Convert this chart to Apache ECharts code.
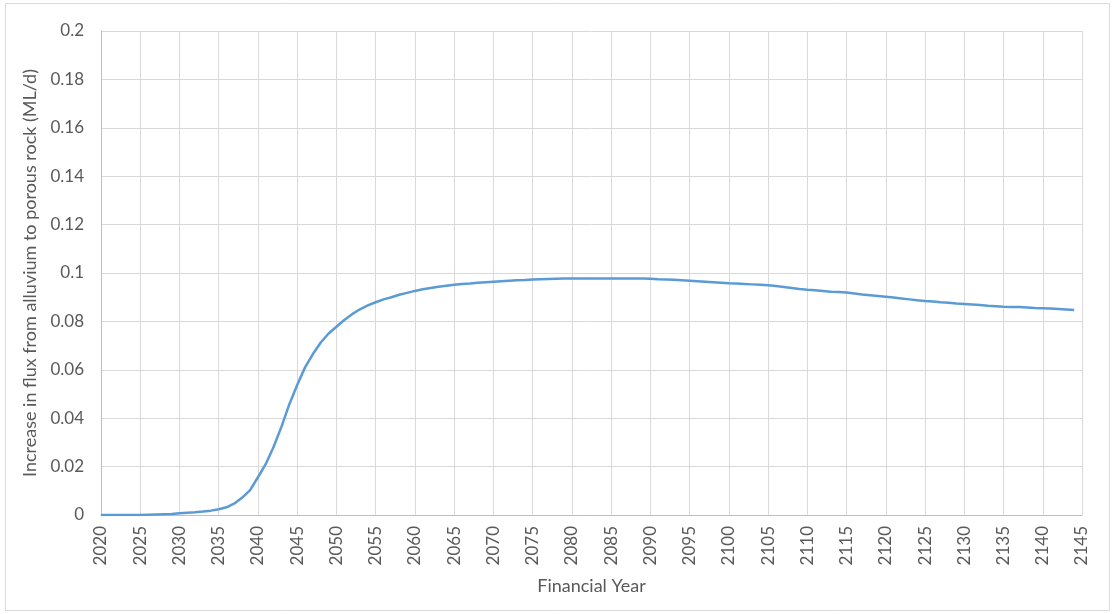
<!DOCTYPE html>
<html>
<head>
<meta charset="utf-8">
<script src="https://cdn.jsdelivr.net/npm/echarts@6/dist/echarts.min.js"></script>
<style>
html,body{margin:0;padding:0;background:#fff;}
#chart{width:1115px;height:614px;}
</style>
</head>
<body>
<div id="chart"></div>
<script>
// Years 2020..2145 (category axis); values for 2020..2144
const startYear = 2020;
const endYear = 2145;
const fluxValues = [
  // 2020-2029
  0, 0, 0, 0, 0, 0, 0.0001, 0.0002, 0.0003, 0.0004,
  // 2030-2039
  0.0007, 0.0009, 0.0011, 0.0014, 0.0018, 0.0024, 0.0032, 0.0048, 0.0072, 0.0103,
  // 2040-2049
  0.0156, 0.0211, 0.0282, 0.0365, 0.0458, 0.0537, 0.0610, 0.0665, 0.0713, 0.0750,
  // 2050-2059
  0.0778, 0.0806, 0.0830, 0.0850, 0.0866, 0.0879, 0.0891, 0.0900, 0.0910, 0.0918,
  // 2060-2069
  0.0926, 0.0933, 0.0938, 0.0943, 0.0947, 0.0951, 0.0955, 0.0957, 0.0960, 0.0962,
  // 2070-2079
  0.0964, 0.0966, 0.0968, 0.0970, 0.0971, 0.0973, 0.0974, 0.0975, 0.0976, 0.0977,
  // 2080-2089
  0.0977, 0.0977, 0.0977, 0.0977, 0.0977, 0.0977, 0.0977, 0.0977, 0.0977, 0.0977,
  // 2090-2099
  0.0976, 0.0974, 0.0973, 0.0972, 0.0970, 0.0968, 0.0966, 0.0964, 0.0962, 0.0960,
  // 2100-2109
  0.0958, 0.0957, 0.0955, 0.0953, 0.0951, 0.0949, 0.0946, 0.0942, 0.0938, 0.0934,
  // 2110-2119
  0.0931, 0.0929, 0.0926, 0.0923, 0.0921, 0.0919, 0.0915, 0.0911, 0.0908, 0.0905,
  // 2120-2129
  0.0902, 0.0899, 0.0895, 0.0891, 0.0887, 0.0884, 0.0882, 0.0879, 0.0877, 0.0874,
  // 2130-2139
  0.0872, 0.0870, 0.0868, 0.0865, 0.0863, 0.0861, 0.0860, 0.0859, 0.0857, 0.0855,
  // 2140-2144
  0.0854, 0.0853, 0.0851, 0.0849, 0.0847
];
const yAxisTitle = 'Increase in flux from alluvium to porous rock (ML/d)';
const xAxisTitle = 'Financial Year';

const years = [];
for (let y = startYear; y <= endYear; y++) years.push(String(y));

const chart = echarts.init(document.getElementById('chart'), null, {renderer: 'canvas'});
const textColor = '#595959';
const fontFamily = 'Lato, "Open Sans", sans-serif';

chart.setOption({
  backgroundColor: '#ffffff',
  animation: false,
  grid: {left: 101, right: 33, top: 31, bottom: 99, containLabel: false},
  graphic: [{
    type: 'rect',
    shape: {x: 5.5, y: 3.5, width: 1104, height: 607},
    style: {fill: 'none', stroke: '#d9d9d9', lineWidth: 1},
    silent: true
  }],
  xAxis: {
    type: 'category',
    data: years,
    boundaryGap: false,
    name: xAxisTitle,
    nameLocation: 'middle',
    nameGap: 62,
    nameTextStyle: {color: textColor, fontSize: 18, fontFamily: fontFamily},
    axisLine: {show: true, lineStyle: {color: '#bfbfbf', width: 1}},
    axisTick: {show: false},
    axisLabel: {
      interval: 4,
      rotate: 90,
      color: textColor,
      fontSize: 17,
      fontFamily: fontFamily,
      margin: 11
    },
    splitLine: {show: true, interval: 4, lineStyle: {color: '#d9d9d9', width: 1}}
  },
  yAxis: {
    type: 'value',
    min: 0,
    max: 0.2,
    interval: 0.02,
    name: yAxisTitle,
    nameLocation: 'middle',
    nameGap: 60,
    nameTextStyle: {color: textColor, fontSize: 18, fontFamily: fontFamily},
    axisLine: {show: true, lineStyle: {color: '#bfbfbf', width: 1}},
    axisTick: {show: false},
    axisLabel: {
      color: textColor,
      fontSize: 17,
      fontFamily: fontFamily,
      margin: 17,
      formatter: function (v) { return String(parseFloat(v.toFixed(4))); }
    },
    splitLine: {show: true, lineStyle: {color: '#d9d9d9', width: 1}}
  },
  series: [{
    type: 'line',
    data: fluxValues,
    showSymbol: false,
    symbol: 'none',
    smooth: false,
    lineStyle: {color: '#5B9BD5', width: 2.5},
    itemStyle: {color: '#5B9BD5'}
  }]
});
</script>
</body>
</html>
